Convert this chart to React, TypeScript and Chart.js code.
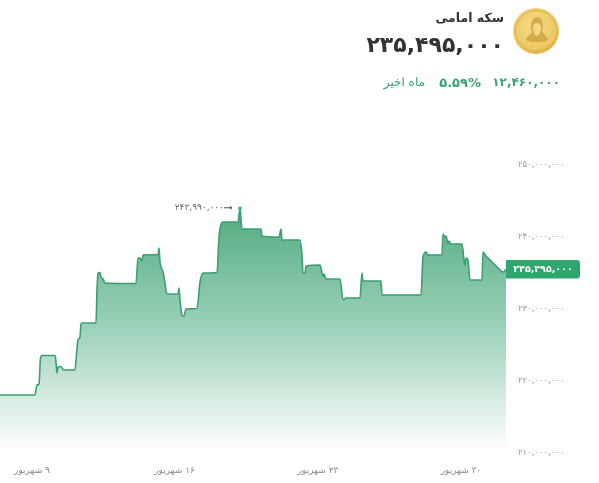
import React, { useEffect, useRef } from "react";
import { Chart, registerables } from "chart.js";

Chart.register(...registerables);

const sampleIndex = [0,35,37,39,40.5,42,55,56,57,58,61,63,65,75,76,78,80,81,82,96,97,98,100,101,103,105,136,138,140,142,143,158,159,160,163,165,167,178,179,180,182,184,186,197,200,203,217,219,223,238,240,242,261,262,279,281,282,300,302,303,305,306,320,322,323,324,326,340,343,346,360,362,363,381,382,421,423,426,428,442,443,445,446,448,449,451,462,464,465,466,468,470,482,483,486,490,495,500,503,506];
const priceMillions = [218.06,218.06,219.44,219.58,223.19,223.54,223.54,222.64,221.11,221.94,222.01,221.6,221.53,221.53,222.92,225.69,226.11,227.92,228.06,228.06,232.64,235,235.07,234.44,234.17,233.61,233.54,237.08,237.08,236.67,237.5,237.57,238.47,236.53,235.14,233.61,232.08,232.08,232.92,231.25,229.17,229.03,230,230.07,233.75,235,235.07,240,242.08,242.08,243.99,241.11,241.11,240.14,240,241.11,239.58,239.58,237.5,235,235,235.97,236.11,235,234.58,234.86,234.17,234.17,231.25,231.53,231.53,235,233.89,233.89,231.94,231.94,237.22,237.92,237.5,237.5,240.42,240,240.14,239.17,239.44,239.03,239.03,236.81,236.11,237.08,236.81,234.03,234.03,237.92,237.36,236.81,236.11,235.42,235.14,235.495];
const yTicks = [210, 220, 230, 240, 250];
const yTickLabels = ["۲۱۰,۰۰۰,۰۰۰", "۲۲۰,۰۰۰,۰۰۰", "۲۳۰,۰۰۰,۰۰۰", "۲۴۰,۰۰۰,۰۰۰", "۲۵۰,۰۰۰,۰۰۰"];
const xTicks = [32, 174.5, 318, 461];
const xTickLabels = ["\u200F۹ شهریور", "\u200F۱۶ شهریور", "\u200F۲۳ شهریور", "\u200F۳۰ شهریور"];
const peakLabel = "۲۴۳,۹۹۰,۰۰۰";
const lastLabel = "۲۳۵,۴۹۵,۰۰۰";
const PEAK = 243.99;
const LAST = 235.495;
const FONT = "'DejaVu Sans', sans-serif";

const annotations = {
  id: "annotations",
  afterDatasetsDraw(chart: any) {
    const { ctx, scales } = chart;
    const y = scales.y;
    const x = scales.x;
    ctx.save();
    const pi = priceMillions.indexOf(PEAK);
    const px = x.getPixelForValue(sampleIndex[pi]);
    const py = y.getPixelForValue(PEAK);
    ctx.fillStyle = "#666";
    ctx.font = `9px ${FONT}`;
    ctx.textAlign = "right";
    ctx.textBaseline = "middle";
    ctx.fillText(peakLabel, px - 16, py - 1);
    ctx.strokeStyle = "#555";
    ctx.lineWidth = 1;
    ctx.beginPath();
    ctx.moveTo(px - 16, py - 0.5);
    ctx.lineTo(px - 8, py - 0.5);
    ctx.moveTo(px - 10, py - 2);
    ctx.lineTo(px - 8, py - 0.5);
    ctx.lineTo(px - 10, py + 1);
    ctx.stroke();
    ctx.fillStyle = "#1fb98a";
    ctx.beginPath();
    ctx.arc(px, py, 1.8, 0, Math.PI * 2);
    ctx.fill();
    const ty = y.getPixelForValue(LAST);
    const left = chart.chartArea.right;
    ctx.fillStyle = "#2fa56f";
    ctx.beginPath();
    ctx.roundRect(left, ty - 9.5, 74, 18.5, [0, 3, 3, 0]);
    ctx.fill();
    ctx.fillStyle = "#fff";
    ctx.font = `bold 9.5px ${FONT}`;
    ctx.textAlign = "center";
    ctx.fillText(lastLabel, left + 37, ty);
    ctx.restore();
  },
};

function Coin() {
  return (
    <svg width="48" height="48" viewBox="0 0 48 48" style={{ position: "absolute", left: 512, top: 7 }}>
      <defs>
        <radialGradient id="g" cx="45%" cy="40%" r="65%">
          <stop offset="0%" stopColor="#f6dc8c" />
          <stop offset="75%" stopColor="#edc863" />
          <stop offset="100%" stopColor="#dcae45" />
        </radialGradient>
      </defs>
      <circle cx="24" cy="24" r="23" fill="url(#g)" />
      <circle cx="24" cy="24" r="20.5" fill="none" stroke="#d3a643" strokeWidth="0.7" />
      <path d="M14 33 C16 28 19 27 20 25 C18 21 18 11 25 10 C31 10 32 19 30 24 C32 27 35 30 36 33 C29 36 21 36 14 33 Z" fill="#c99a3c" opacity="0.7" />
      <path d="M21 19 C22 15 28 15 29 19 C29 25 27 29 25 29 C23 29 21 25 21 19 Z" fill="#f4d883" />
    </svg>
  );
}

const abs = (style: any): any => ({
  position: "absolute",
  fontFamily: FONT,
  whiteSpace: "nowrap",
  lineHeight: 1,
  ...style,
});

export default function App() {
  const ref = useRef<HTMLCanvasElement>(null);
  useEffect(() => {
    const chart = new Chart(ref.current!, {
      type: "line",
      data: {
        datasets: [
          {
            data: sampleIndex.map((x, i) => ({ x, y: priceMillions[i] })),
            borderColor: "#3c9f72",
            borderWidth: 1.6,
            borderJoinStyle: "round",
            pointRadius: 0,
            cubicInterpolationMode: "monotone",
            fill: "start",
            backgroundColor: (c: any) => {
              const a = c.chart.chartArea;
              if (!a) return "transparent";
              const g = c.chart.ctx.createLinearGradient(0, 208, 0, 450);
              g.addColorStop(0, "rgba(50,155,105,0.85)");
              g.addColorStop(0.5, "rgba(60,165,115,0.5)");
              g.addColorStop(1, "rgba(60,165,115,0)");
              return g;
            },
          },
        ],
      },
      options: {
        animation: false,
        responsive: false,
        layout: { padding: { top: 165, bottom: 0, left: 0, right: 0 } },
        plugins: { legend: { display: false }, tooltip: { enabled: false } },
        scales: {
          x: {
            type: "linear",
            min: 0,
            max: 506,
            grid: { display: false, drawTicks: false },
            border: { display: false },
            afterBuildTicks: (s: any) => {
              s.ticks = xTicks.map((value) => ({ value }));
            },
            afterFit: (s: any) => {
              s.height = 30;
            },
            ticks: {
              autoSkip: false,
              maxRotation: 0,
              padding: 12,
              color: "#8a8a8a",
              font: { family: FONT, size: 9 },
              callback: (v: any) => xTickLabels[xTicks.indexOf(v)],
            },
          },
          y: {
            position: "right",
            min: 210,
            max: 250,
            grid: { display: false, drawTicks: false },
            border: { display: false },
            afterBuildTicks: (s: any) => {
              s.ticks = yTicks.map((value) => ({ value }));
            },
            afterFit: (s: any) => {
              s.width = 93;
            },
            ticks: {
              crossAlign: "near",
              padding: 12,
              color: "#9a9a9a",
              font: { family: FONT, size: 8.5 },
              callback: (v: any) => yTickLabels[yTicks.indexOf(v)],
            },
          },
        },
      },
      plugins: [annotations],
    } as any);
    return () => chart.destroy();
  }, []);
  return (
    <div style={{ position: "absolute", left: 0, top: 0, width: 599, height: 483, background: "#fff", overflow: "hidden" }}>
      <canvas ref={ref} width={599} height={483} style={{ position: "absolute", left: 0, top: 0, width: 599, height: 483 }} />
      <Coin />
      <div dir="rtl" style={abs({ right: 95, top: 12, fontSize: 12.5, fontWeight: 700, color: "#333" })}>سکه امامی</div>
      <div style={abs({ right: 95, top: 34, fontSize: 22, fontWeight: 700, color: "#333" })}>۲۳۵,۴۹۵,۰۰۰</div>
      <div style={abs({ right: 39, top: 76, fontSize: 12, fontWeight: 700, color: "#3aa377" })}>۱۲,۴۶۰,۰۰۰</div>
      <div style={abs({ right: 118, top: 76, fontSize: 13, fontWeight: 700, color: "#3aa377" })}>۵.۵۹%</div>
      <div dir="rtl" style={abs({ right: 174, top: 76, fontSize: 12, color: "#3aa377" })}>ماه اخیر</div>
    </div>
  );
}
